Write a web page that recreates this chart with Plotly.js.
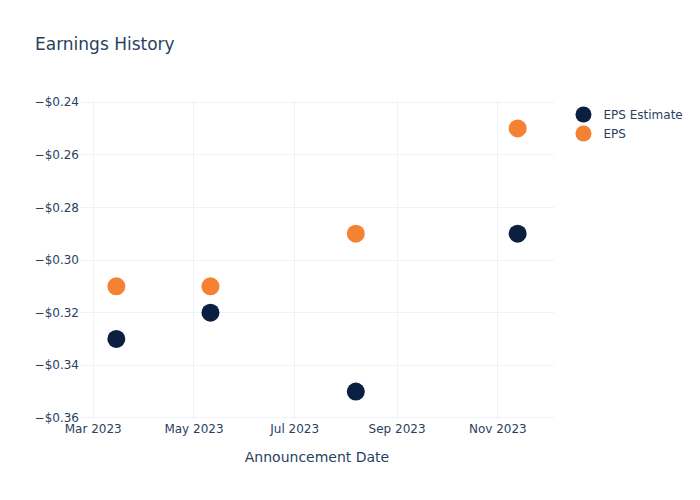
<!DOCTYPE html>
<html><head><meta charset="utf-8">
<script src="https://cdn.plot.ly/plotly-3.0.1.min.js"></script>
<style>html,body{margin:0;padding:0;}</style>
</head><body>
<div id="chart" style="width:700px;height:500px;"></div>
<script>
const dates = ['2023-03-15', '2023-05-11', '2023-08-07', '2023-11-13'];
const epsEstimate = [-0.33, -0.32, -0.35, -0.29];
const eps = [-0.31, -0.31, -0.29, -0.25];

const traces = [
  {x: dates, y: epsEstimate, name: 'EPS Estimate', mode: 'markers', type: 'scatter',
   marker: {color: '#0b1f40', size: 18}},
  {x: dates, y: eps, name: 'EPS', mode: 'markers', type: 'scatter',
   marker: {color: '#f58233', size: 18}}
];
const layout = {
  width: 700, height: 500,
  template: 'plotly_white',
  font: {family: 'DejaVu Sans, Verdana, sans-serif', color: '#2a3f5f', size: 12},
  paper_bgcolor: '#ffffff', plot_bgcolor: '#ffffff',
  title: {text: 'Earnings History', x: 0.05, xanchor: 'left', y: 0.924, font: {size: 17}},
  margin: {l: 80, r: 80, t: 100, b: 80},
  xaxis: {title: {text: 'Announcement Date', font: {size: 14}, standoff: 17}, type: 'date',
          range: ['2023-02-21', '2023-12-05'], dtick: 'M2', tickformat: '%b %Y',
          gridcolor: '#eef2f9', zeroline: false, showline: false, ticks: ''},
  yaxis: {range: [-0.3608, -0.2392], dtick: 0.02, tickformat: '$.2f',
          gridcolor: '#eef2f9', zeroline: false, showline: false},
  legend: {x: 1.02, y: 1, xanchor: 'left', yanchor: 'top', font: {size: 12}},
  showlegend: true
};
Plotly.newPlot('chart', traces, layout, {displayModeBar: false});
</script>
</body></html>
